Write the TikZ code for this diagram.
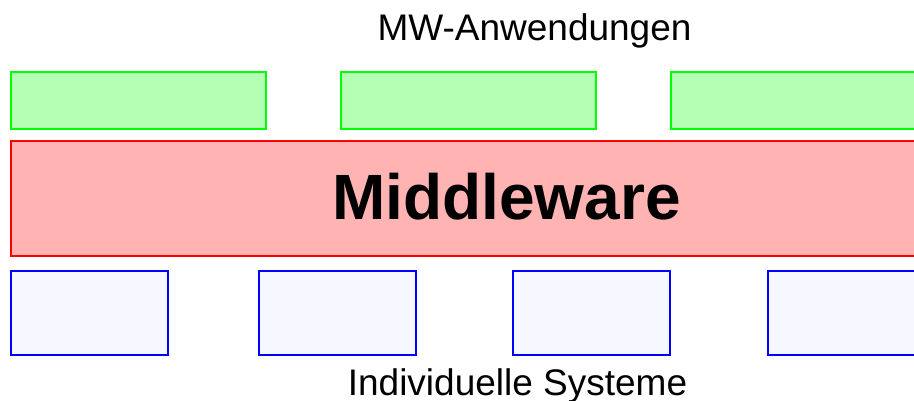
\documentclass[tikz,border=0pt]{standalone}
\usepackage{fontspec}
\setmainfont{Liberation Sans}
\definecolor{appfill}{RGB}{181,255,181}
\definecolor{appline}{RGB}{0,255,0}
\definecolor{mwfill}{RGB}{255,179,179}
\definecolor{mwline}{RGB}{255,0,0}
\definecolor{sysfill}{RGB}{247,248,255}
\definecolor{sysline}{RGB}{0,0,255}
\tikzset{
  appbox/.style={draw=appline, fill=appfill, line width=2pt, anchor=north west, inner sep=0pt, minimum width=254.5pt, minimum height=57pt},
  mwbox/.style={draw=mwline, fill=mwfill, line width=2pt, anchor=north west, inner sep=0pt, minimum width=920pt, minimum height=114.5pt},
  sysbox/.style={draw=sysline, fill=sysfill, line width=2pt, anchor=north west, inner sep=0pt, minimum width=156.5pt, minimum height=83.5pt},
  lbl/.style={anchor=base, inner sep=0pt, font=\fontsize{37}{40}\selectfont},
  title/.style={anchor=base, inner sep=0pt, font=\fontsize{64}{70}\selectfont\bfseries}
}
\begin{document}
\begin{tikzpicture}[x=1pt,y=-1pt]
\useasboundingbox (0,0) rectangle (914,401);
\clip (0,0) rectangle (914,401);
\node[appbox] (app1) at (10,70.7) {};
\node[appbox] (app2) at (340,70.7) {};
\node[appbox] (app3) at (670,70.7) {};
\node[mwbox] (mw) at (10,140.5) {};
\node[sysbox] (sys1) at (10,270) {};
\node[sysbox] (sys2) at (258.3,270) {};
\node[sysbox] (sys3) at (512.3,270) {};
\node[sysbox] (sys4) at (767.3,270) {};
\node[lbl] (top) at (534.5,41) {MW-Anwendungen};
\node[title] (mwtext) at (506.5,220) {Middleware};
\node[lbl] (bottom) at (517.5,395) {Individuelle Systeme};
\end{tikzpicture}
\end{document}
